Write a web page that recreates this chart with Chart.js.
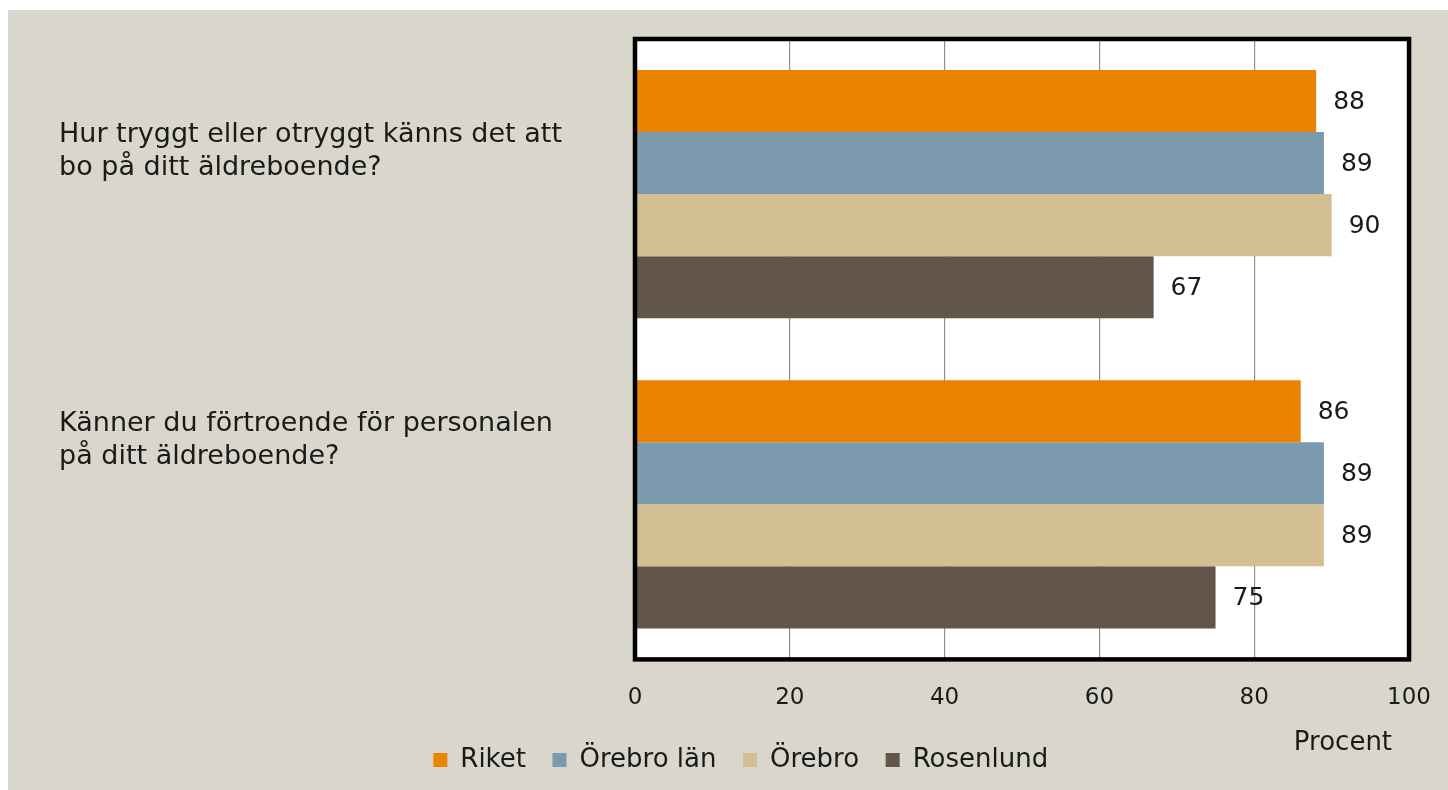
<!DOCTYPE html>
<html><head><meta charset="utf-8">
<script src="https://cdn.jsdelivr.net/npm/chart.js@4"></script>
<style>
html,body{margin:0;padding:0;background:#fff;overflow:hidden;}
#wrap{position:absolute;left:8px;top:10px;width:1448px;height:780px;background:#D9D7CB;}
canvas{display:block;}
</style></head><body>
<div id="wrap"><canvas id="c" width="1448" height="780"></canvas></div>
<script>
const categories = [
  ["Hur tryggt eller otryggt känns det att", "bo på ditt äldreboende?"],
  ["Känner du förtroende för personalen", "på ditt äldreboende?"]
];
const seriesNames = ["Riket", "Örebro län", "Örebro", "Rosenlund"];
const riket = [88, 86];
const orebroLan = [89, 89];
const orebro = [90, 89];
const rosenlund = [67, 75];
const xTicks = [0, 20, 40, 60, 80, 100];
const axisTitle = "Procent";

const FONT = "'DejaVu Sans', sans-serif";
const colors = ["#E98300", "#7B9AAD", "#D4BE94", "#62554A"];
const seriesValues = [riket, orebroLan, orebro, rosenlund];

const chartBg = {
  id: 'chartBg',
  beforeDraw(chart) {
    const {ctx, chartArea: a} = chart;
    ctx.save();
    ctx.fillStyle = '#ffffff';
    ctx.fillRect(a.left, a.top, a.right - a.left, a.bottom - a.top);
    ctx.restore();
  }
};

const frame = {
  id: 'frame',
  afterDatasetsDraw(chart) {
    const {ctx, chartArea: a} = chart;
    ctx.save();
    ctx.strokeStyle = '#000';
    ctx.lineWidth = 4.5;
    ctx.strokeRect(a.left, a.top, a.right - a.left, a.bottom - a.top);
    ctx.restore();
  }
};

const valueLabels = {
  id: 'valueLabels',
  afterDatasetsDraw(chart) {
    const {ctx} = chart;
    ctx.save();
    ctx.font = "25px " + FONT;
    ctx.fillStyle = '#1a1a1a';
    ctx.textAlign = 'left';
    ctx.textBaseline = 'middle';
    chart.data.datasets.forEach((ds, di) => {
      const meta = chart.getDatasetMeta(di);
      meta.data.forEach((el, i) => {
        ctx.fillText(String(ds.data[i]), el.x + 17, el.y + 1);
      });
    });
    ctx.restore();
  }
};

const catLabels = {
  id: 'catLabels',
  afterDraw(chart) {
    const {ctx} = chart;
    const ys = chart.scales.y;
    const offsets = [-43, -64];
    ctx.save();
    ctx.font = "27px " + FONT;
    ctx.fillStyle = '#1a1a1a';
    ctx.textAlign = 'left';
    ctx.textBaseline = 'middle';
    categories.forEach((lines, i) => {
      const cy = ys.getPixelForValue(i) + offsets[i];
      const lh = 33;
      const start = cy - (lines.length - 1) * lh / 2;
      lines.forEach((t, k) => ctx.fillText(t, 51, start + k * lh));
    });
    const xs = chart.scales.x;
    ctx.font = "26px " + FONT;
    ctx.textAlign = 'right';
    ctx.fillText(axisTitle, xs.getPixelForValue(100) - 17, chart.chartArea.bottom + 84);
    ctx.restore();
  }
};

const PAD_L = 34;

new Chart(document.getElementById('c'), {
  type: 'bar',
  data: {
    labels: categories.map(l => l.join(' ')),
    datasets: seriesNames.map((n, i) => ({
      label: n,
      data: seriesValues[i],
      backgroundColor: colors[i],
      borderWidth: 0,
      barPercentage: 1,
      categoryPercentage: 0.8
    }))
  },
  options: {
    indexAxis: 'y',
    responsive: false,
    animation: false,
    devicePixelRatio: 1,
    layout: { padding: { top: 29, right: 0, bottom: 7, left: PAD_L } },
    scales: {
      x: {
        min: 0, max: 100,
        afterBuildTicks(s) { s.ticks = xTicks.map(v => ({value: v})); },
        ticks: { font: { size: 23, family: FONT }, color: '#1a1a1a', padding: 25 },
        grid: { color: '#8f8f8f', lineWidth: 1.2, drawTicks: false },
        border: { display: false }
      },
      y: {
        ticks: { display: false },
        grid: { display: false },
        border: { display: false },
        afterFit(s) { s.width = 627 - PAD_L; }
      }
    },
    plugins: {
      legend: {
        position: 'bottom',
        labels: {
          boxWidth: 14, boxHeight: 14,
          padding: 10,
          color: '#1a1a1a',
          font: { size: 26, family: FONT },
          generateLabels(chart) {
            const items = Chart.defaults.plugins.legend.labels.generateLabels(chart);
            items.forEach(it => { it.text = it.text + '\u00a0\u00a0'; });
            return items;
          }
        }
      },
      tooltip: { enabled: false }
    }
  },
  plugins: [chartBg, frame, valueLabels, catLabels]
});
</script>
</body></html>
